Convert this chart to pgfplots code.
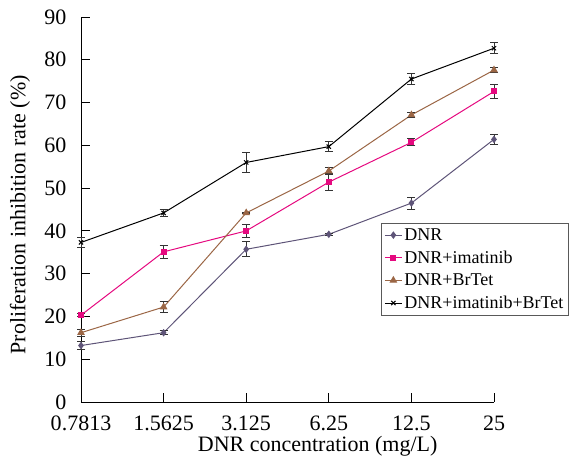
\documentclass[border=0pt]{standalone}
\usepackage{fontspec}
\setmainfont{Liberation Serif}
\usepackage{pgfplots}
\pgfplotsset{compat=1.18}
\definecolor{cDNR}{HTML}{5E5478}
\definecolor{cIma}{HTML}{E5097F}
\definecolor{cBr}{HTML}{9B6645}
\begin{document}
\begin{tikzpicture}
\useasboundingbox (-81pt,-56pt) rectangle (488pt,402pt);
\begin{axis}[
 scale only axis, width=413pt, height=385pt,
 xmin=0, xmax=5, ymin=0, ymax=90,
 axis x line=bottom, axis y line=left,
 axis line style={-, line width=1pt},
 xtick={0,1,2,3,4,5}, xticklabels={0.7813,1.5625,3.125,6.25,12.5,25},
 ytick={0,10,...,90},
 tick align=inside, major tick length=9pt, tick style={black, line width=1pt},
 tick label style={font=\fontsize{22}{24}\selectfont, inner sep=0.5pt},
 yticklabel style={xshift=-14pt},
 xticklabel style={yshift=-13.5pt},
 label style={font=\fontsize{22}{24}\selectfont},
 /pgf/number format/assume math mode=true,
 xlabel={DNR concentration (mg/L)},
 xlabel style={at={(axis description cs:0.573,0)}, anchor=center, yshift=-44.5pt},
 ylabel={Proliferation inhibition rate (\%)},
 ylabel style={at={(axis description cs:-0.148,0.486)}, anchor=center},
 legend style={at={(0.726,0.465)}, anchor=north west, draw=black!65, line width=1pt,
   font=\fontsize{18}{20}\selectfont, legend cell align=left, row sep=5pt, inner sep=3pt},
 legend image post style={line width=1pt},
 clip=false,
 every axis plot/.append style={line width=1pt},
 error bars/error bar style={black!80, line width=1pt},
 error bars/error mark options={black!80, rotate=90, mark size=4pt, line width=1pt},
]
\addplot[color=cDNR, mark=diamond*, mark size=3pt, mark options={fill=cDNR}, error bars/.cd, y dir=both, y explicit]
 coordinates {(0,13.2) +- (0,1) (1,16.2) +- (0,0.5) (2,35.7) +- (0,1.8) (3,39.2) +- (0,0.3) (4,46.5) +- (0,1.4) (5,61.4) +- (0,1.2)};
\addlegendentry{DNR}
\addplot[color=cIma, mark=square*, mark size=2.5pt, mark options={fill=cIma}, error bars/.cd, y dir=both, y explicit]
 coordinates {(0,20.3) +- (0,0.3) (1,35.1) +- (0,1.6) (2,40.0) +- (0,1.6) (3,51.4) +- (0,2) (4,60.7) +- (0,0.8) (5,72.6) +- (0,1.7)};
\addlegendentry{DNR+imatinib}
\addplot[color=cBr, mark=triangle*, mark size=3.5pt, mark options={fill=cBr}, error bars/.cd, y dir=both, y explicit]
 coordinates {(0,16.2) +- (0,0.8) (1,22.2) +- (0,1.2) (2,44.2) +- (0,0.2) (3,54.0) +- (0,0.9) (4,67.1) +- (0,0.6) (5,77.6) +- (0,0.6)};
\addlegendentry{DNR+BrTet}
\addplot[color=black, mark=x, mark size=3pt, error bars/.cd, y dir=both, y explicit]
 coordinates {(0,37.3) +- (0,1.2) (1,44.2) +- (0,0.8) (2,56.0) +- (0,2.3) (3,59.7) +- (0,1.1) (4,75.5) +- (0,1.3) (5,82.7) +- (0,1.3)};
\addlegendentry{DNR+imatinib+BrTet}
\end{axis}
\end{tikzpicture}
\end{document}
